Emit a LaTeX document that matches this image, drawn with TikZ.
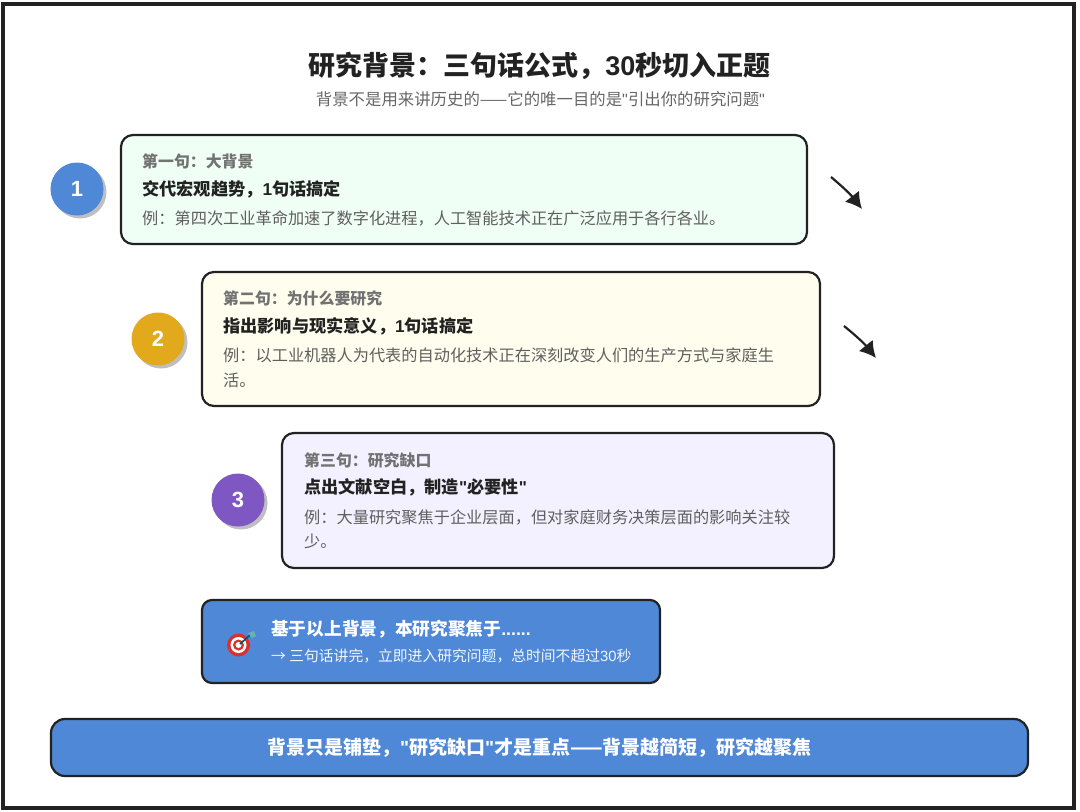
\documentclass[tikz,border=0pt]{standalone}
\usepackage{fontspec}
\setmainfont{Noto Sans CJK SC}
\newfontfamily\latinfont{Liberation Sans}
\newcommand{\lat}[1]{{\latinfont #1}}
\usepackage{xcolor}
\usetikzlibrary{arrows.meta,shadows}
\definecolor{inkdark}{HTML}{222222}
\definecolor{labelgray}{HTML}{666666}
\definecolor{headgray}{HTML}{727272}
\definecolor{examplegray}{HTML}{5F5F5F}
\definecolor{bannerblue}{HTML}{4F88D6}
\definecolor{goldbadge}{HTML}{E3A91C}
\definecolor{purplebadge}{HTML}{7E57C2}
\definecolor{greenfill}{HTML}{F0FFF5}
\definecolor{yellowfill}{HTML}{FFFEEE}
\definecolor{purplefill}{HTML}{F3F1FF}
\definecolor{targetred}{HTML}{D8322E}
\tikzset{
	>=Latex,
	cardbox/.style={
		draw=inkdark,
		rounded corners=12pt,
		line width=2.2pt,
		inner sep=0pt
	},
	badge/.style={
		circle,
		text=white,
		minimum size=53pt,
		inner sep=0pt,
		copy shadow={shadow xshift=3pt,shadow yshift=-3pt,fill=black!25,draw=none},
		font=\latinfont\bfseries\fontsize{22}{26}\selectfont
	},
	headline/.style={anchor=west,inner sep=0pt,text=headgray,font=\bfseries\fontsize{15.9}{20}\selectfont},
	pointline/.style={anchor=west,inner sep=0pt,text=inkdark,font=\bfseries\fontsize{17.2}{21}\selectfont},
	exampleline/.style={anchor=west,inner sep=0pt,text=examplegray,font=\fontsize{16.2}{20}\selectfont},
	conn/.style={
		-{Latex[length=16pt,width=18pt]},
		draw=inkdark,
		line width=2.2pt
	}
}
\begin{document}
\begin{tikzpicture}[x=1pt,y=-1pt]
	\useasboundingbox (0,0) rectangle (1080,812);
	
	% Frame
	\node[draw=inkdark,line width=3.4pt,minimum width=1071pt,minimum height=804pt,inner sep=0pt] (frame) at (538.5,406) {};
	
	% Title
	\node[inner sep=0pt,text=inkdark,font=\bfseries\fontsize{27}{32}\selectfont] (title) at (539.5,66) {研究背景：三句话公式，\lat{30}秒切入正题};
	\node[inner sep=0pt,text=labelgray,font=\fontsize{16.4}{20}\selectfont] (subtitle) at (540.5,99) {背景不是用来讲历史的——它的唯一目的是\lat{"}引出你的研究问题\lat{"}};
	
	% Badges
	\node[badge,fill=bannerblue] (one) at (77,189) {1};
	\node[badge,fill=goldbadge] (two) at (158,339) {2};
	\node[badge,fill=purplebadge] (three) at (238,500) {3};
	
	% Cards
	\node[cardbox,fill=greenfill,minimum width=686pt,minimum height=109pt] (cardone) at (464,189.5) {};
	\node[headline] (headone) at (142,161) {第一句：大背景};
	\node[pointline] (pointone) at (142,189) {交代宏观趋势，\lat{1}句话搞定};
	\node[exampleline] (exone) at (142,218.5) {例：第四次工业革命加速了数字化进程，人工智能技术正在广泛应用于各行各业。};
	
	\node[cardbox,fill=yellowfill,minimum width=618pt,minimum height=134pt] (cardtwo) at (511,339) {};
	\node[headline] (headtwo) at (223,298) {第二句：为什么要研究};
	\node[pointline] (pointtwo) at (223,326) {指出影响与现实意义，\lat{1}句话搞定};
	\node[exampleline] (extwoa) at (223,355.5) {例：以工业机器人为代表的自动化技术正在深刻改变人们的生产方式与家庭生};
	\node[exampleline] (extwob) at (223,380) {活。};
	
	\node[cardbox,fill=purplefill,minimum width=552pt,minimum height=135pt] (cardthree) at (558,500.5) {};
	\node[headline] (headthree) at (304,460) {第三句：研究缺口};
	\node[pointline] (pointthree) at (304,487.5) {点出文献空白，制造\lat{"}必要性\lat{"}};
	\node[exampleline] (exthreea) at (304,517) {例：大量研究聚焦于企业层面，但对家庭财务决策层面的影响关注较};
	\node[exampleline] (exthreeb) at (304,541.5) {少。};
	
	% Arrows
	\coordinate (arrowa) at (831,177);
	\coordinate (arrowb) at (862,209);
	\coordinate (arrowc) at (844,326);
	\coordinate (arrowd) at (876,358);
	\draw[conn] (arrowa) to[bend left=6] (arrowb);
	\draw[conn] (arrowc) to[bend left=6] (arrowd);
	
	% Focus banner
	\node[cardbox,rounded corners=10pt,fill=bannerblue,minimum width=458pt,minimum height=83pt] (focus) at (431,641.5) {};
	\fill[targetred] (238.5,645) circle (11.5pt);
	\fill[white] (238.5,645) circle (8pt);
	\fill[targetred] (238.5,645) circle (5.5pt);
	\fill[white] (238.5,645) circle (3pt);
	\draw[line width=1.6pt,draw=teal!70!black] (240,644) -- (250,635);
	\fill[teal!60!white] (248,633) -- (254,631) -- (256,636) -- (252,638) -- cycle;
	\node[pointline,text=white,font=\bfseries\fontsize{17.7}{21}\selectfont] (focusa) at (271,629) {基于以上背景，本研究聚焦于\lat{......}};
	\node[pointline,text=white!92!bannerblue,font=\fontsize{14.8}{18}\selectfont] (focusb) at (271,655.5) {→ 三句话讲完，立即进入研究问题，总时间不超过\lat{30}秒};
	
	% Bottom banner
	\node[cardbox,rounded corners=14pt,fill=bannerblue,minimum width=977pt,minimum height=57pt,text=white,font=\bfseries\fontsize{19}{22}\selectfont] (closing) at (539.5,747.5) {背景只是铺垫，\lat{"}研究缺口\lat{"}才是重点——背景越简短，研究越聚焦};
	
\end{tikzpicture}
\end{document}
